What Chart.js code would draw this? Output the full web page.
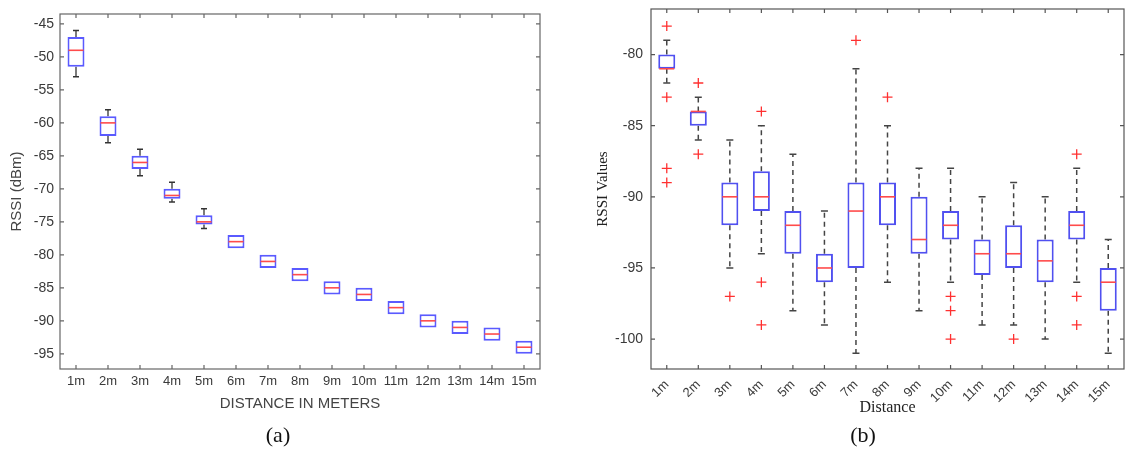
<!DOCTYPE html>
<html>
<head>
<meta charset="utf-8">
<script src="https://cdn.jsdelivr.net/npm/chart.js@4.4.0/dist/chart.umd.min.js"></script>
<style>
  body { margin: 0; background: #fff; width: 1126px; height: 449px; position: relative; overflow: hidden; }
  .wrap { position: absolute; top: 0; height: 449px; }
  #wrapA { left: 0; width: 560px; }
  #wrapB { left: 560px; width: 566px; }
  .cap { position: absolute; top: 424px; font-family: "Liberation Serif", serif; font-size: 22px; line-height: 22px; color: #111; transform: translateX(-50%); }
</style>
</head>
<body>
<div class="wrap" id="wrapA"><canvas id="chartA"></canvas></div>
<div class="wrap" id="wrapB"><canvas id="chartB"></canvas></div>
<div class="cap" style="left:278px">(a)</div>
<div class="cap" style="left:863px">(b)</div>

<script>
const labels = ["1m", "2m", "3m", "4m", "5m", "6m", "7m", "8m", "9m", "10m", "11m", "12m", "13m", "14m", "15m"];

// (a) RSSI (dBm) vs distance
const yTicksA = [-95, -90, -85, -80, -75, -70, -65, -60, -55, -50, -45];
const q3A = [-47, -59, -65, -70, -74, -77, -80, -82, -84, -85, -87, -89, -90, -91, -93];
const q1A = [-51.5, -62, -67, -71.5, -75.4, -79, -82, -84, -86, -87, -89, -91, -92, -93, -95];
const medA = [-49, -60, -66, -71, -75, -78, -81, -83, -85, -86, -88, -90, -91, -92, -94];
const hiA = [-46, -58, -64, -69, -73, null, null, null, null, null, null, null, null, null, null];
const loA = [-53, -63, -68, -72, -76, null, null, null, null, null, null, null, null, null, null];
const outA = [[], [], [], [], [], [], [], [], [], [], [], [], [], [], []];

// (b) RSSI values vs distance
const yTicksB = [-100, -95, -90, -85, -80];
const q3B = [-80, -84, -89, -88.2, -91, -94, -89, -89, -90, -91, -93, -92, -93, -91, -95];
const q1B = [-81, -85, -92, -91, -94, -96, -95, -92, -94, -93, -95.5, -95, -96, -93, -98];
const medB = [-81, -84, -90, -90, -92, -95, -91, -90, -93, -92, -94, -94, -94.5, -92, -96];
const hiB = [-79, -83, -86, -85, -87, -91, -81, -85, -88, -88, -90, -89, -90, -88, -93];
const loB = [-82, -86, -95, -94, -98, -99, -101, -96, -98, -96, -99, -99, -100, -96, -101];
const outB = [[-78, -83, -88, -89], [-82, -87], [-97], [-84, -96, -99], [], [], [-79], [-83], [], [-97, -98, -100], [], [-100], [], [-87, -97, -99], []];

// frame round the plot area with inward tick marks
const framePlugin = {
  id: "frame",
  beforeDatasetsDraw(chart, args, opts) {
    const { ctx, chartArea: a, scales } = chart;
    ctx.save();
    ctx.strokeStyle = opts.color;
    ctx.lineWidth = opts.width;
    ctx.strokeRect(a.left, a.top, a.right - a.left, a.bottom - a.top);
    const t = opts.tick;
    ctx.beginPath();
    scales.x.ticks.forEach((_, i) => {
      const x = scales.x.getPixelForTick(i);
      ctx.moveTo(x, a.bottom); ctx.lineTo(x, a.bottom - t);
      ctx.moveTo(x, a.top); ctx.lineTo(x, a.top + t);
    });
    scales.y.ticks.forEach((_, i) => {
      const y = scales.y.getPixelForTick(i);
      ctx.moveTo(a.left, y); ctx.lineTo(a.left + t, y);
      ctx.moveTo(a.right, y); ctx.lineTo(a.right - t, y);
    });
    ctx.stroke();
    ctx.restore();
  }
};

function boxDatasets(q1, q3, med, hi, lo, outl, st) {
  const whisk = [];
  const caps = [];
  const outs = [];
  labels.forEach((l, i) => {
    if (hi[i] !== null) {
      whisk.push({ x: l, y: q3[i] }, { x: l, y: hi[i] }, { x: l, y: null });
      caps.push({ x: l, y: hi[i] });
    }
    if (lo[i] !== null) {
      whisk.push({ x: l, y: q1[i] }, { x: l, y: lo[i] }, { x: l, y: null });
      caps.push({ x: l, y: lo[i] });
    }
    outl[i].forEach((v) => outs.push({ x: l, y: v }));
  });
  return [
    {
      type: "line",
      data: whisk,
      borderColor: st.whisker,
      borderWidth: st.whiskerWidth,
      borderDash: st.dash,
      pointRadius: 0,
      spanGaps: false,
      order: 5,
    },
    {
      type: "bar",
      data: q1.map((v, i) => [v, q3[i]]),
      backgroundColor: "#ffffff",
      borderColor: st.box,
      borderWidth: st.boxWidth,
      borderSkipped: false,
      barPercentage: st.barPct,
      categoryPercentage: 1,
      order: 4,
    },
    {
      type: "line",
      data: caps,
      showLine: false,
      pointStyle: "line",
      pointRadius: st.capRadius,
      pointBorderColor: st.whisker,
      pointBorderWidth: 1.5,
      order: 3,
    },
    {
      type: "line",
      data: med.map((v, i) => ({ x: labels[i], y: v })),
      showLine: false,
      pointStyle: "line",
      pointRadius: st.medRadius,
      pointBorderColor: "#ff4b4b",
      pointBorderWidth: 1.6,
      order: 2,
    },
    {
      type: "line",
      data: outs,
      showLine: false,
      pointStyle: "cross",
      pointRadius: 5,
      pointBorderColor: "#ff3030",
      pointBorderWidth: 1.3,
      order: 1,
    },
  ];
}

function makeChart(id, cfg) {
  return new Chart(document.getElementById(id).getContext("2d"), {
    type: "bar",
    data: { labels: labels, datasets: cfg.datasets },
    plugins: [framePlugin],
    options: {
      responsive: true,
      maintainAspectRatio: false,
      animation: false,
      layout: { padding: cfg.padding, autoPadding: false },
      plugins: {
        legend: { display: false },
        tooltip: { enabled: false },
        frame: { color: cfg.frameColor, width: 1.2, tick: 4 },
      },
      scales: {
        x: {
          type: "category",
          offset: true,
          grid: { display: false, drawTicks: false },
          border: { display: false },
          ticks: {
            color: "#3a3a3a",
            font: { family: "Liberation Sans", size: 13 },
            padding: cfg.xPad,
            minRotation: cfg.rot,
            maxRotation: cfg.rot,
            autoSkip: false,
          },
          title: cfg.xTitle,
          afterFit: (s) => {
            s.height = cfg.xHeight;
            s.paddingLeft = 0;
            s.paddingRight = 0;
          },
        },
        y: {
          min: cfg.min,
          max: cfg.max,
          grid: { display: false, drawTicks: false },
          border: { display: false },
          afterBuildTicks: (s) => { s.ticks = cfg.ticks.map((v) => ({ value: v })); },
          ticks: {
            color: "#3a3a3a",
            font: { family: "Liberation Sans", size: 14 },
            padding: cfg.yPad,
          },
          title: cfg.yTitle,
          afterFit: (s) => {
            s.width = cfg.yWidth;
            s.paddingTop = 0;
            s.paddingBottom = 0;
          },
        },
      },
    },
  });
}

makeChart("chartA", {
  datasets: boxDatasets(q1A, q3A, medA, hiA, loA, outA, {
    box: "#5a5aff", boxWidth: 2, whisker: "#333333", whiskerWidth: 1.3, dash: [],
    barPct: 0.53, capRadius: 3, medRadius: 7.5,
  }),
  padding: { top: 14, right: 20, left: 0, bottom: 35 },
  frameColor: "#666666",
  min: -97.3, max: -43.5, ticks: yTicksA,
  rot: 0, xPad: 5, xHeight: 45, yWidth: 60, yPad: 6,
  xTitle: { display: true, text: "DISTANCE IN METERS", color: "#444", font: { family: "Liberation Sans", size: 15 }, padding: { top: 0, bottom: 1 } },
  yTitle: { display: true, text: "RSSI (dBm)", color: "#444", font: { family: "Liberation Sans", size: 15 }, padding: { top: 8, bottom: 0 } },
});

makeChart("chartB", {
  datasets: boxDatasets(q1B, q3B, medB, hiB, loB, outB, {
    box: "#5050f0", boxWidth: 2, whisker: "#444444", whiskerWidth: 1.5, dash: [5, 4],
    barPct: 0.54, capRadius: 3.5, medRadius: 7.5,
  }),
  padding: { top: 9, right: 2, left: 0, bottom: 32 },
  frameColor: "#555555",
  min: -102.1, max: -76.8, ticks: yTicksB,
  rot: 45, xPad: 8, xHeight: 48, yWidth: 91, yPad: 8,
  xTitle: { display: true, text: "Distance", color: "#222", font: { family: "Liberation Serif", size: 16 }, padding: { top: 0, bottom: 0 } },
  yTitle: { display: true, text: "RSSI Values", color: "#222", font: { family: "Liberation Serif", size: 15 }, padding: { top: 34, bottom: 0 } },
});
</script>
</body>
</html>
